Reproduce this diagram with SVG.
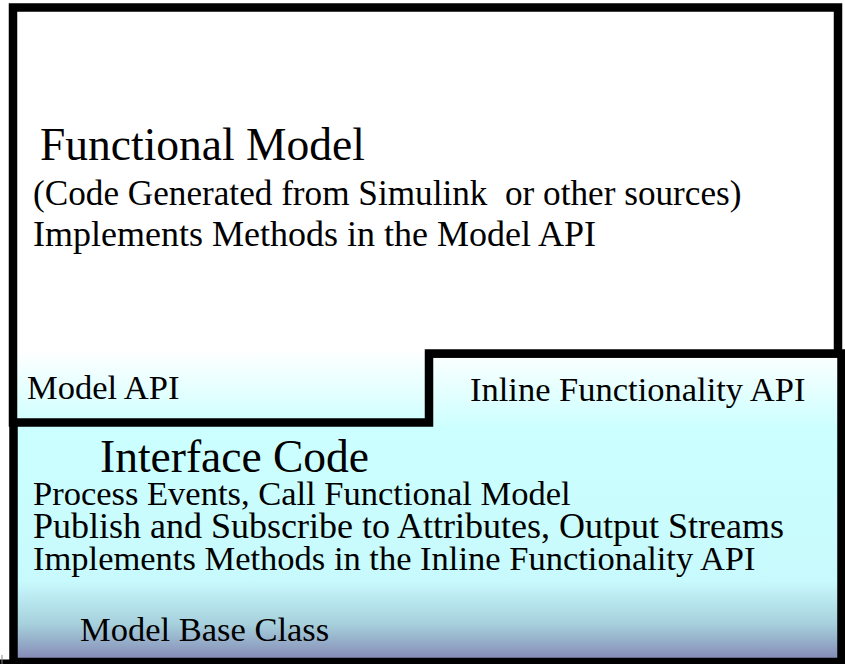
<svg xmlns="http://www.w3.org/2000/svg" width="845" height="664" viewBox="0 0 845 664">
  <defs>
    <linearGradient id="fill" gradientUnits="userSpaceOnUse" x1="0" y1="0" x2="0" y2="664">
      <stop offset="0" stop-color="#ffffff"/>
      <stop offset="0.527" stop-color="#ffffff"/>
      <stop offset="0.645" stop-color="#ccffff"/>
      <stop offset="0.875" stop-color="#c8fafd"/>
      <stop offset="0.94" stop-color="#a6d0dc"/>
      <stop offset="1" stop-color="#8080b0"/>
    </linearGradient>
  </defs>
  <style>
    .box { stroke: #000; stroke-linejoin: miter; }
    text { font-family: "Liberation Serif", "Times New Roman", serif; fill: #000; white-space: pre; }
    .big { font-size: 45.5px; }
    .small { font-size: 34.5px; }
  </style>
  <rect width="845" height="664" fill="#ffffff"/>
  <g id="interface-code">
    <rect class="box" x="13.5" y="353.5" width="828" height="308.5" fill="url(#fill)" stroke-width="8.5"/>
    <line x1="0" y1="662" x2="845" y2="662" stroke="#000" stroke-width="5"/>
    <line x1="2" y1="655" x2="2" y2="664" stroke="#888" stroke-width="1"/>
    <text class="small" x="470" y="401">Inline Functionality API</text>
    <text class="big" x="100" y="472">Interface Code</text>
    <text class="small" x="33" y="505">Process Events, Call Functional Model</text>
    <text class="small" x="33" y="538" style="font-size:36px">Publish and Subscribe to Attributes, Output Streams</text>
    <text class="small" x="33" y="570">Implements Methods in the Inline Functionality API</text>
    <text class="small" x="80" y="641">Model Base Class</text>
  </g>
  <g id="functional-model">
    <path class="box" d="M13,7.5 H838 V353.5 H429 V422.5 H13 Z" fill="url(#fill)" stroke-width="8.5"/>
    <text class="big" x="40" y="160">Functional Model</text>
    <text class="small" x="33" y="205" style="font-size:35.2px">(Code Generated from Simulink  or other sources)</text>
    <text class="small" x="33" y="246" style="font-size:36px">Implements Methods in the Model API</text>
    <text class="small" x="27" y="399">Model API</text>
  </g>
</svg>
